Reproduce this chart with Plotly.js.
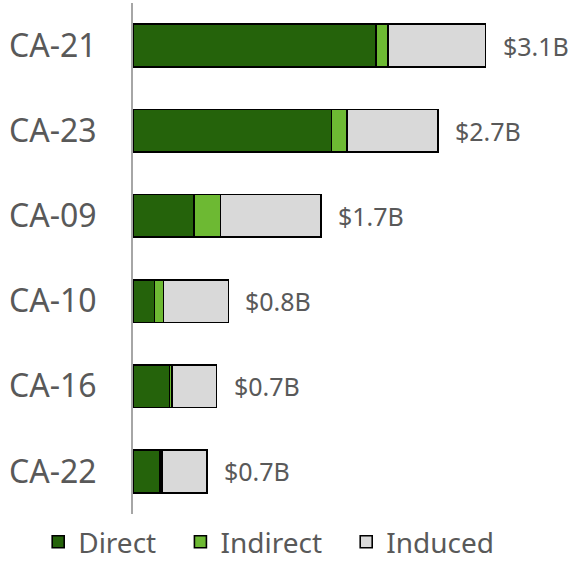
<!DOCTYPE html>
<html>
<head>
<meta charset="utf-8">
<script src="https://cdn.plot.ly/plotly-3.0.1.min.js"></script>
<style>html,body{margin:0;padding:0;background:#fff;}#chart{width:576px;height:569px;}</style>
</head>
<body>
<div id="chart"></div>
<script>
const categories = ["CA-21", "CA-23", "CA-09", "CA-10", "CA-16", "CA-22"];
const direct   = [2.14, 1.75, 0.537, 0.188, 0.32, 0.24];
const indirect = [0.108, 0.135, 0.235, 0.079, 0.021, 0.015];
const induced  = [0.858, 0.804, 0.886, 0.573, 0.396, 0.399];
const totalLabels = ["$3.1B", "$2.7B", "$1.7B", "$0.8B", "$0.7B", "$0.7B"];
const seriesNames = ["Direct", "Indirect", "Induced"];

const totals = categories.map((c, i) => direct[i] + indirect[i] + induced[i]);
const outline = {color: "#000000", width: 1.6};
const pad = "\u00a0\u00a0\u2009";

const traces = [
  {type: "bar", orientation: "h", name: seriesNames[0] + pad, y: categories, x: direct,
   marker: {color: "#25630B", line: outline}, hoverinfo: "x+y"},
  {type: "bar", orientation: "h", name: seriesNames[1] + pad, y: categories, x: indirect,
   marker: {color: "#6DB933", line: outline}, hoverinfo: "x+y"},
  {type: "bar", orientation: "h", name: seriesNames[2], y: categories, x: induced,
   marker: {color: "#D9D9D9", line: outline}, hoverinfo: "x+y"}
];

const annotations = categories.map((c, i) => ({
  x: totals[i], y: c, xref: "x", yref: "y", text: totalLabels[i],
  showarrow: false, xanchor: "left", yanchor: "middle", xshift: 15,
  font: {family: "Noto Sans", size: 25, color: "#595959"}
}));

const layout = {
  width: 576, height: 569,
  margin: {l: 133, r: 0, t: 3, b: 55},
  barmode: "stack",
  bargap: 0.5,
  paper_bgcolor: "#ffffff", plot_bgcolor: "#ffffff",
  font: {family: "Noto Sans", color: "#595959"},
  xaxis: {range: [0, 3.903], showgrid: false, zeroline: false, showline: false,
          showticklabels: false, ticks: "", fixedrange: true},
  yaxis: {autorange: "reversed", showgrid: false, zeroline: false, showline: true,
          linecolor: "#A6A6A6", linewidth: 2, ticks: "", ticklabelstandoff: 28,
          tickfont: {family: "Noto Sans", size: 32, color: "#595959"}},
  showlegend: true,
  legend: {orientation: "h", x: -0.214, xref: "paper", xanchor: "left",
           y: -0.055, yref: "paper", yanchor: "middle",
           font: {family: "Noto Sans", size: 28, color: "#595959"},
           traceorder: "normal", itemwidth: 30},
  annotations: annotations
};

Plotly.newPlot("chart", traces, layout, {displayModeBar: false, staticPlot: true});
</script>
</body>
</html>
